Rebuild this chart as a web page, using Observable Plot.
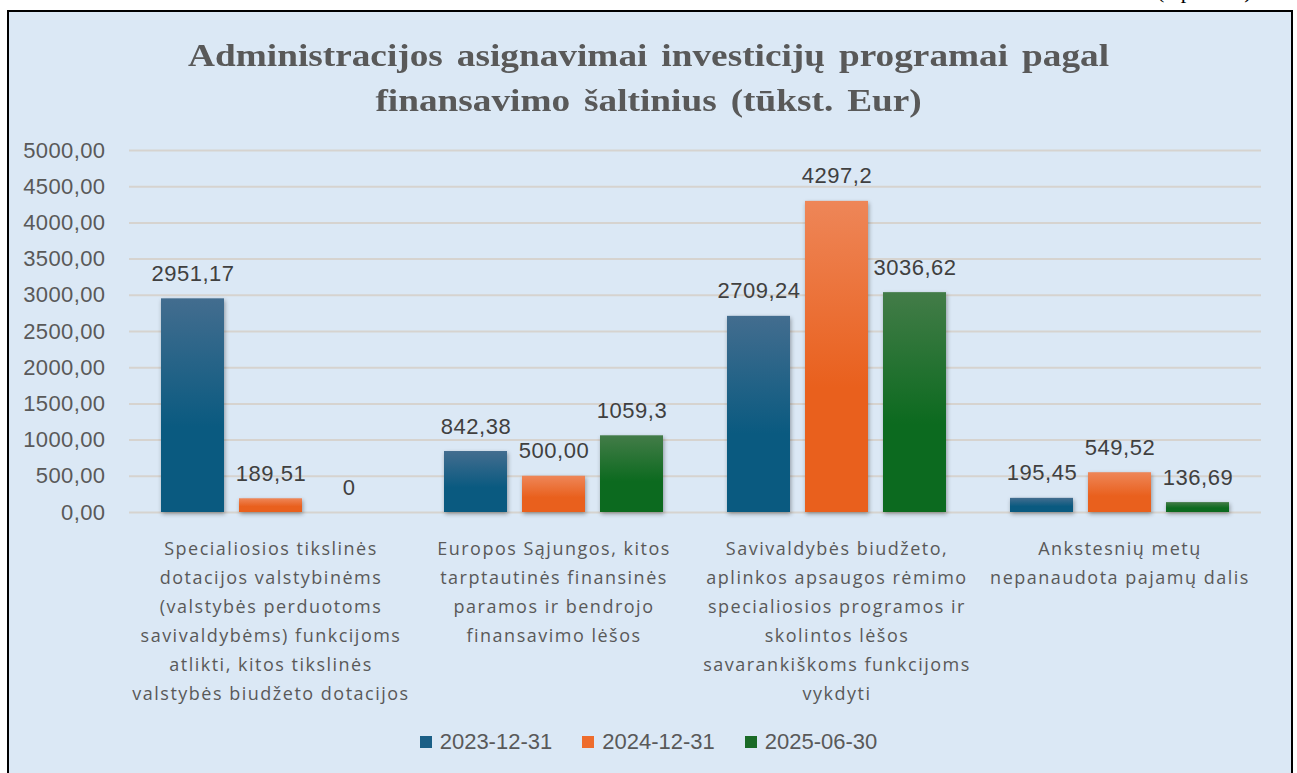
<!DOCTYPE html>
<html>
<head>
<meta charset="utf-8">
<script src="https://cdn.jsdelivr.net/npm/d3@7"></script>
<script src="https://cdn.jsdelivr.net/npm/@observablehq/plot@0.6"></script>
<style>
  html, body { margin: 0; padding: 0; background: #fff; }
  #wrap { position: relative; width: 1297px; height: 773px; overflow: hidden; }
  #note { position: absolute; left: 1157px; top: -22px; font: 22px "Liberation Serif", serif; color: #000; white-space: nowrap; }
  #box { position: absolute; left: 7px; top: 10px; width: 1282px; height: 800px; border: 2px solid #000; background: #dbe8f5; }
  #title { position: absolute; left: 0; top: 33px; width: 1297px; text-align: center; font: bold 32px/45px "Liberation Serif", serif; color: #595959; word-spacing: 4px; transform: scaleX(1.165); transform-origin: 648px 0; }
  #chart { position: absolute; left: 0; top: 0; }
  #legend { position: absolute; left: 0; top: 729px; width: 1297px; display: flex; justify-content: center; gap: 30px; font: 22px "Liberation Sans", Arial, sans-serif; color: #595959; }
  #legend .item { display: flex; align-items: center; gap: 8px; }
  #legend .sw { width: 12px; height: 12px; display: inline-block; }
</style>
</head>
<body>
<div id="wrap">
  <div id="note">(1 priedas)</div>
  <div id="box"></div>
  <div id="title">Administracijos asignavimai investicijų programai pagal<br>finansavimo šaltinius (tūkst. Eur)</div>
  <div id="chart"></div>
  <div id="legend"></div>
</div>
<script>
const categories = [
  "Specialiosios tikslinės\ndotacijos valstybinėms\n(valstybės perduotoms\nsavivaldybėms) funkcijoms\natlikti, kitos tikslinės\nvalstybės biudžeto dotacijos",
  "Europos Sąjungos, kitos\ntarptautinės finansinės\nparamos ir bendrojo\nfinansavimo lėšos",
  "Savivaldybės biudžeto,\naplinkos apsaugos rėmimo\nspecialiosios programos ir\nskolintos lėšos\nsavarankiškoms funkcijoms\nvykdyti",
  "Ankstesnių metų\nnepanaudota pajamų dalis"
];
const series = ["2023-12-31", "2024-12-31", "2025-06-30"];
const values2023 = [2951.17, 842.38, 2709.24, 195.45];
const values2024 = [189.51, 500.00, 4297.2, 549.52];
const values2025 = [0, 1059.3, 3036.62, 136.69];
const labels2023 = ["2951,17", "842,38", "2709,24", "195,45"];
const labels2024 = ["189,51", "500,00", "4297,2", "549,52"];
const labels2025 = ["0", "1059,3", "3036,62", "136,69"];
const yTicks = [0, 500, 1000, 1500, 2000, 2500, 3000, 3500, 4000, 4500, 5000];

const seriesValues = [values2023, values2024, values2025];
const seriesLabels = [labels2023, labels2024, labels2025];
const gradIds = ["gBlue", "gOrange", "gGreen"];
const legendColors = ["#1b5f86", "#ee6c2c", "#1a6b27"];

const rows = [];
series.forEach((s, si) => {
  categories.forEach((c, ci) => {
    rows.push({category: c, series: s, si, value: seriesValues[si][ci], label: seriesLabels[si][ci]});
  });
});

const chart = Plot.plot({
  width: 1297,
  height: 773,
  marginTop: 150,
  marginBottom: 261,
  marginLeft: 128,
  marginRight: 35,
  style: {background: "transparent", fontFamily: "'Liberation Sans', Arial, sans-serif", overflow: "visible"},
  fx: {domain: categories, paddingInner: 0, paddingOuter: 0, label: null},
  x: {domain: series, paddingInner: 0.197, paddingOuter: 0.406, axis: null},
  y: {domain: [0, 5000], label: null},
  marks: [
    Plot.gridY(yTicks, {stroke: "#d6d3cf", strokeOpacity: 1, strokeWidth: 2}),
    Plot.axisY(yTicks, {tickSize: 0, tickPadding: 24, fontSize: 22, fill: "#595959", label: null,
      tickFormat: d => d.toFixed(2).replace(".", ",")}),
    ...series.map((s, si) => Plot.barY(rows.filter(r => r.si === si), {
      fx: "category", x: "series", y: "value", fill: `url(#${gradIds[si]})`
    })),
    Plot.text(rows, {fx: "category", x: "series", y: "value", text: "label", dy: -25,
      fontSize: 22, fill: "#404040"}),
    Plot.axisFx({anchor: "bottom", tickSize: 0, tickPadding: 22, fontSize: 18, lineHeight: 29 / 18,
      fill: "#595959", label: null, fontFamily: "'Open Sans', sans-serif"})
  ]
});

const svg = d3.select(chart);
const defs = svg.insert("defs", ":first-child");
const stops = [["gBlue", "#436d8f", "#0a5a80"], ["gOrange", "#ee8658", "#e9601d"], ["gGreen", "#437c48", "#0c6a1f"]];
stops.forEach(([id, top, bottom]) => {
  const g = defs.append("linearGradient").attr("id", id).attr("x1", 0).attr("y1", 0).attr("x2", 0).attr("y2", 1);
  g.append("stop").attr("offset", "0%").attr("stop-color", top);
  g.append("stop").attr("offset", "60%").attr("stop-color", bottom);
  g.append("stop").attr("offset", "100%").attr("stop-color", bottom);
});
svg.selectAll("g[aria-label='bar'] rect").style("filter", "drop-shadow(1px 2px 2px rgba(0,0,0,0.35))");
svg.selectAll("g[aria-label='fx-axis tick label'] text").style("letter-spacing", "1.5px");
svg.selectAll("g[aria-label='text'] text").style("letter-spacing", "0.5px");
svg.selectAll("g[aria-label='y-axis tick label'] text").style("letter-spacing", "0.4px");
document.getElementById("chart").appendChild(chart);

const legend = d3.select("#legend");
series.forEach((s, i) => {
  const it = legend.append("div").attr("class", "item");
  it.append("span").attr("class", "sw").style("background", legendColors[i]);
  it.append("span").text(s);
});
</script>
</body>
</html>
